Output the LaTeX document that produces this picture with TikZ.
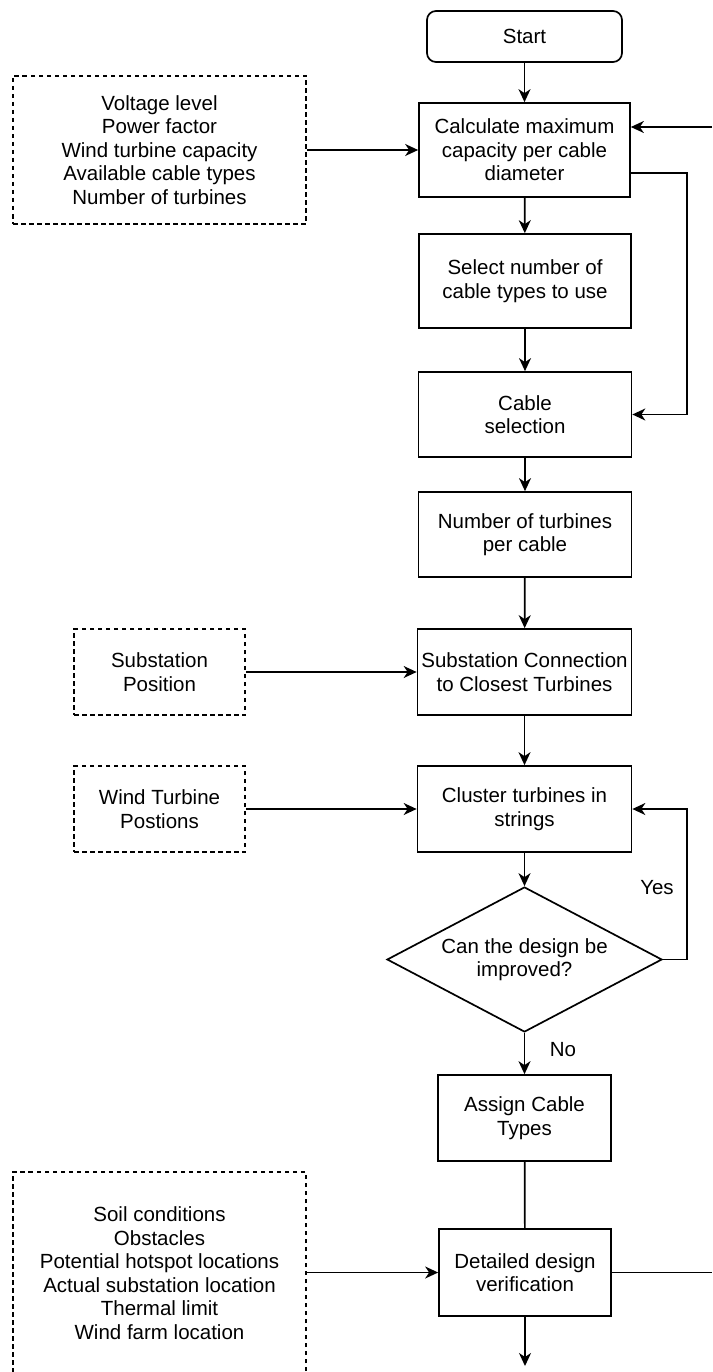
\documentclass[tikz,border=0pt]{standalone}
\usepackage{fontspec}
\setmainfont{Liberation Sans}
\usetikzlibrary{arrows.meta,shapes.geometric,calc}
\begin{document}
\begin{tikzpicture}[x=1pt,y=-1pt,
  every node/.style={font=\fontsize{20.5}{23.5}\selectfont, align=center, inner sep=0pt},
  proc/.style={draw, line width=1.7pt, rectangle},
  inbox/.style={draw, line width=1.5pt, dash pattern=on 4.5pt off 3.5pt, rectangle},
  arr/.style={line width=1.7pt, -{Stealth[length=13pt,width=12pt,inset=4pt]}},
  ln/.style={line width=1.7pt}]
\clip (0,0) rectangle (712,1372);
\fill[white] (0,0) rectangle (712,1372);

\node[proc, rounded corners=9pt, minimum width=195pt, minimum height=51pt] (start) at (524.5,36.5) {Start};
\node[proc, minimum width=211pt, minimum height=94pt] (calc) at (524.5,150) {Calculate maximum\\capacity per cable\\diameter};
\node[proc, minimum width=212pt, minimum height=94pt] (sel) at (525,281) {Select number of\\cable types to use};
\node[proc, minimum width=213pt, minimum height=85pt] (cab) at (525,414.5) {Cable\\selection};
\node[proc, minimum width=213pt, minimum height=85pt] (num) at (525,534.5) {Number of turbines\\per cable};
\node[proc, minimum width=214pt, minimum height=86pt] (sub) at (524.5,672) {Substation Connection\\to Closest Turbines};
\node[proc, minimum width=214pt, minimum height=86pt] (clu) at (524.5,809) {Cluster turbines in\\strings};
\node[draw, line width=1.7pt, shape=diamond, aspect=1.9, minimum width=275pt, minimum height=145pt] (dia) at (524.5,959.5) {Can the design be\\improved?};
\node[proc, minimum width=173pt, minimum height=86pt] (asg) at (524.5,1118) {Assign Cable\\Types};
\node[proc, minimum width=172pt, minimum height=87pt] (det) at (525,1272.5) {Detailed design\\verification};

\node[inbox, minimum width=293pt, minimum height=148pt] (in1) at (159.5,150) {Voltage level\\Power factor\\Wind turbine capacity\\Available cable types\\Number of turbines};
\node[inbox, minimum width=171pt, minimum height=86pt] (in2) at (159.5,672) {Substation\\Position};
\node[inbox, minimum width=171pt, minimum height=86pt] (in3) at (159.5,809) {Wind Turbine\\Postions};
\node[inbox, minimum width=293pt, minimum height=202pt] (in4) at (159.5,1273) {Soil conditions\\Obstacles\\Potential hotspot locations\\Actual substation location\\Thermal limit\\Wind farm location};

\node (yes) at (657,888) {Yes};
\node (no) at (563,1050) {No};

\coordinate (er1) at (712,127);
\coordinate (c1) at (687,173);
\coordinate (yl) at (687,959.5);
\coordinate (er2) at (712,1272.5);
\coordinate (endp) at (525,1366);

\draw[arr] (start) -- (calc);
\draw[arr] (in1) -- (calc);
\draw[arr] (er1) -- (er1 -| calc.east);
\draw[arr] (c1 -| calc.east) -- (c1) |- (cab.east);
\draw[arr] (calc) -- (sel);
\draw[arr] (sel) -- (cab);
\draw[arr] (cab) -- (num);
\draw[arr] (num) -- (sub);
\draw[arr] (in2) -- (sub);
\draw[arr] (sub) -- (clu);
\draw[arr] (in3) -- (clu);
\draw[arr] (clu) -- (dia);
\draw[arr] (dia.east) -- (yl) |- (clu.east);
\draw[arr] (dia) -- (asg);
\draw[ln] (asg) -- (det);
\draw[arr] (in4.east |- det.west) -- (det.west);
\draw[ln] (det.east) -- (er2);
\draw[arr] (det) -- (endp);
\end{tikzpicture}
\end{document}
